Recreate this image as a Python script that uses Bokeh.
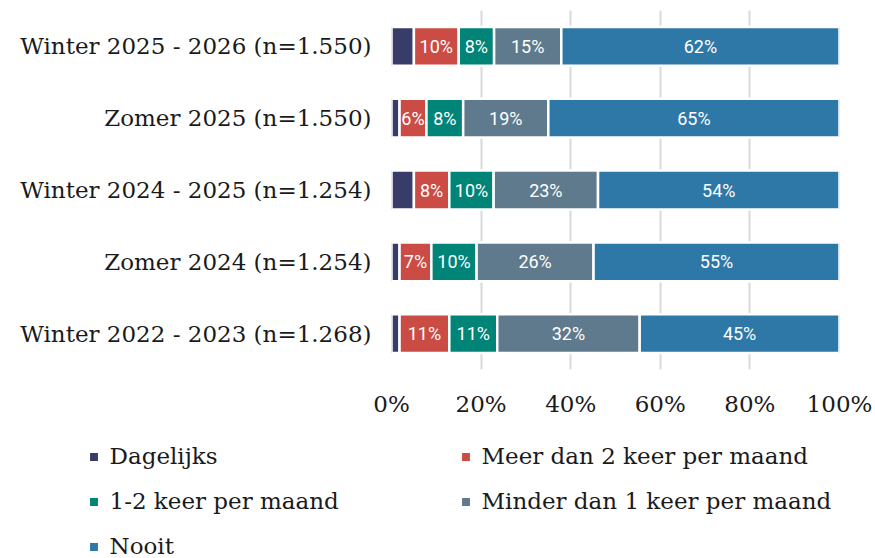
from bokeh.plotting import figure
from bokeh.layouts import column
from bokeh.models import (ColumnDataSource, FactorRange, Range1d, FixedTicker,
                          PrintfTickFormatter, Legend, LegendItem)
from bokeh.core.properties import value
from bokeh.embed import file_html
from bokeh.resources import INLINE

categories = [
    "Winter 2025 - 2026 (n=1.550)",
    "Zomer 2025 (n=1.550)",
    "Winter 2024 - 2025 (n=1.254)",
    "Zomer 2024 (n=1.254)",
    "Winter 2022 - 2023 (n=1.268)",
]
series_names = ["Dagelijks", "Meer dan 2 keer per maand", "1-2 keer per maand",
                "Minder dan 1 keer per maand", "Nooit"]
dagelijks = [5.0, 1.8, 5.0, 1.8, 1.8]
meer_dan_2 = [10.0, 6.0, 7.9, 7.1, 11.1]
een_twee = [7.9, 8.2, 9.9, 10.1, 10.7]
minder_dan_1 = [15.0, 19.0, 23.3, 26.1, 31.8]
nooit = [62.1, 65.0, 53.9, 54.9, 44.6]
colors = ["#383c69", "#cb4c44", "#008478", "#5f7a8d", "#2e78a8"]
x_ticks = [0, 20, 40, 60, 80, 100]

series = [dagelijks, meer_dan_2, een_twee, minder_dan_1, nooit]
keys = ["s0", "s1", "s2", "s3", "s4"]
data = {"cat": categories}
for k, s in zip(keys, series):
    data[k] = s
source = ColumnDataSource(data)

SERIF = "DejaVu Serif"
TXT = "#1a1a1a"

p = figure(width=875, height=420,
           y_range=FactorRange(*reversed(categories)),
           x_range=Range1d(0, 100),
           output_backend="svg", toolbar_location=None,
           min_border_left=391, min_border_right=36,
           min_border_top=10, min_border_bottom=51)
p.outline_line_color = None
p.frame_align = False

renderers = p.hbar_stack(keys, y="cat", height=0.54, color=colors,
                         line_color="white", line_width=2.5, source=source)

# data labels (all except Dagelijks)
lx, ly, lt = [], [], []
for i, cat in enumerate(categories):
    start = 0.0
    for j, s in enumerate(series):
        v = s[i]
        if j > 0:
            lx.append(start + v / 2.0)
            ly.append(cat)
            lt.append(f"{int(v + 0.5)}%")
        start += v
lsrc = ColumnDataSource(dict(x=lx, y=ly, text=lt))
p.text(x="x", y="y", text="text", source=lsrc, text_font=value("Roboto"),
       text_font_size="18px", text_color="white", text_align="center",
       text_baseline="middle")

# axes
p.xaxis.ticker = FixedTicker(ticks=x_ticks)
p.xaxis.formatter = PrintfTickFormatter(format="%d%%")
p.xgrid.ticker = FixedTicker(ticks=x_ticks)
p.xgrid.grid_line_color = "#d9d9d9"
p.xgrid.grid_line_width = 2
p.ygrid.grid_line_color = None
for ax in (p.xaxis[0], p.yaxis[0]):
    ax.axis_line_color = None
    ax.major_tick_line_color = None
    ax.minor_tick_line_color = None
    ax.major_tick_out = 0
    ax.major_tick_in = 0
    ax.major_label_text_font = SERIF
    ax.major_label_text_font_size = "23px"
    ax.major_label_text_color = TXT
p.xaxis.major_label_standoff = 21
p.yaxis.major_label_standoff = 20

# legend panel below the chart
p2 = figure(width=875, height=138,
            y_range=FactorRange(*reversed(categories)),
            x_range=Range1d(0, 100),
            output_backend="svg", toolbar_location=None,
            x_axis_location=None, y_axis_location=None,
            min_border=0)
p2.outline_line_color = None
p2.grid.grid_line_color = None
p2.frame_align = False
leg_renderers = p2.hbar_stack(keys, y="cat", height=0.54, color=colors,
                              line_color="white", line_width=2.5, source=source)
for r in leg_renderers:
    r.visible = False


def make_legend(idx, loc):
    lg = Legend(items=[LegendItem(label=series_names[i], renderers=[leg_renderers[i]]) for i in idx],
                location=loc, orientation="vertical",
                glyph_width=13, glyph_height=13, label_height=27,
                spacing=18, padding=0, margin=0, label_standoff=10,
                label_text_font=SERIF, label_text_font_size="23px",
                label_text_color=TXT, border_line_color=None,
                background_fill_alpha=0)
    p2.add_layout(lg, "center")


make_legend([0, 2, 4], (86.5, -1.5))
make_legend([1, 3], (458.5, 43.5))

layout = column(p, p2, spacing=0)
open("out.html", "w").write(file_html(layout, INLINE))
